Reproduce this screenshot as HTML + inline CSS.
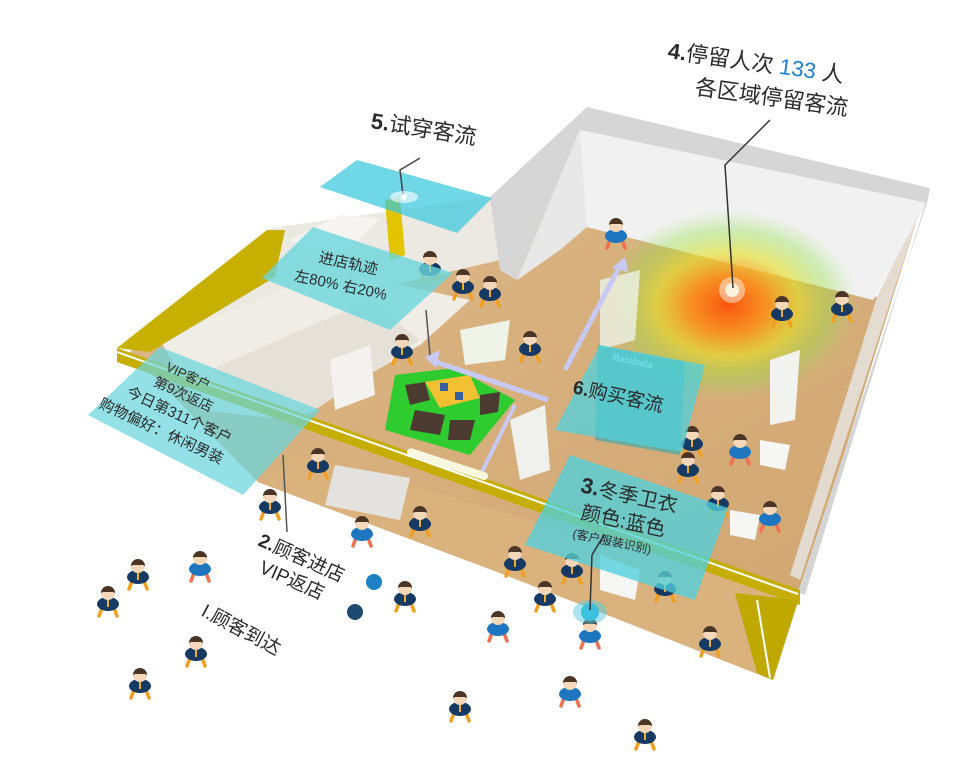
<!DOCTYPE html>
<html><head><meta charset="utf-8">
<style>
html,body{margin:0;padding:0;background:#fff;width:975px;height:780px;overflow:hidden}
svg{display:block}
text{font-family:"Liberation Sans","Noto Sans CJK SC",sans-serif;fill:#2b2b2b}
</style></head><body>
<svg width="975" height="780" viewBox="0 0 975 780" xmlns="http://www.w3.org/2000/svg">
<defs>
<radialGradient id="heat" cx="0.5" cy="0.5" r="0.5">
<stop offset="0" stop-color="#ff4a00" stop-opacity="0.9"/>
<stop offset="0.3" stop-color="#ff8a10" stop-opacity="0.8"/>
<stop offset="0.55" stop-color="#e6e020" stop-opacity="0.6"/>
<stop offset="0.8" stop-color="#8fe040" stop-opacity="0.35"/>
<stop offset="1" stop-color="#a0e060" stop-opacity="0"/>
</radialGradient>
<linearGradient id="wood" x1="0" y1="0" x2="1" y2="1">
<stop offset="0" stop-color="#dcb888"/><stop offset="1" stop-color="#d0a46e"/>
</linearGradient>
<g id="p">
<path d="M-6 8 l-3 8 M6 8 l3 8" stroke="#f0a020" stroke-width="3.5" stroke-linecap="round"/>
<ellipse cx="0" cy="4" rx="11" ry="7" fill="#163a63"/>
<rect x="-1" y="-2" width="2" height="9" fill="#f0b020"/>
<circle cx="0" cy="-7" r="7" fill="#f3d7b8"/>
<path d="M-7 -7 a7 7 0 0 1 14 0 l-2 -1 l-10 0 z" fill="#4b3526"/>
</g>
<g id="pb">
<path d="M-6 8 l-3 8 M6 8 l3 8" stroke="#f07050" stroke-width="3.5" stroke-linecap="round"/>
<ellipse cx="0" cy="4" rx="11" ry="7" fill="#1f76c0"/>
<circle cx="0" cy="-7" r="7" fill="#f3d7b8"/>
<path d="M-7 -7 a7 7 0 0 1 14 0 l-2 -1 l-10 0 z" fill="#4b3526"/>
</g>
</defs>

<!-- floor -->
<polygon points="130,352 280,240 490,197 587,227 877,297 920,210 800,595 773,680 500,573 258,482" fill="url(#wood)"/>
<polygon points="258,482 300,455 800,596 773,680 500,573" fill="#d9b27e"/>

<!-- left zone walls -->
<polygon points="272,228 490,197 500,260 330,300 250,330 175,330" fill="#ece9e2"/>
<polygon points="160,340 330,270 470,300 420,345 290,420 200,410" fill="#f0ede6"/>
<polygon points="210,370 370,300 420,340 300,420" fill="#e6e1d8"/>
<polygon points="290,240 340,215 380,218 340,260" fill="#f6f4f0"/>
<!-- dressing room yellow -->
<polygon points="385,200 400,198 405,255 390,260" fill="#e2c400"/>
<!-- left yellow wall -->
<polygon points="117,348 267,230 285,230 275,277 150,352" fill="#c8b000"/>

<!-- back right wall -->
<polygon points="490,197 587,107 930,188 927,203 580,130 517,280 500,270" fill="#d6d6d6"/>
<polygon points="580,130 927,203 873,300 587,227" fill="#f1f1f1"/>
<polygon points="517,280 580,130 587,227 560,250" fill="#e8e8e8"/>
<!-- right wall -->
<polygon points="927,203 930,188 805,595 798,592" fill="#d4d4d4"/>
<polygon points="877,297 920,210 800,580 790,575" fill="#e7e7e7" opacity="0.8"/>

<!-- heat map -->
<ellipse cx="728" cy="305" rx="130" ry="95" fill="url(#heat)"/>
<circle cx="732" cy="290" r="13" fill="#fff" opacity="0.45"/>
<circle cx="732" cy="290" r="7" fill="#fdf0dc"/>

<!-- fixtures -->
<polygon points="330,360 370,345 375,395 335,410" fill="#f4f2ee"/>
<polygon points="460,330 510,320 505,360 465,365" fill="#f0f3e8"/>
<polygon points="600,280 640,270 635,340 600,350" fill="#eef2e8" opacity="0.8"/>
<polygon points="510,420 545,405 550,470 520,480" fill="#f0f0ec"/>
<polygon points="770,360 800,350 795,420 770,425" fill="#f2f2ee"/>
<polygon points="760,440 790,445 785,470 760,465" fill="#f6f6f4"/>
<polygon points="730,510 760,515 755,540 730,535" fill="#f6f6f4"/>
<polygon points="600,555 640,570 635,600 600,590" fill="#f6f6f4"/>
<polygon points="335,465 410,478 400,520 325,505" fill="#e4e2de"/>
<!-- green display -->
<polygon points="395,375 455,368 515,400 470,455 385,430" fill="#2fcc2f"/>
<polygon points="425,382 470,375 480,398 440,408" fill="#f2c030"/>
<rect x="440" y="383" width="8" height="8" fill="#3a5fa0"/>
<rect x="455" y="392" width="8" height="8" fill="#3a5fa0"/>
<polygon points="405,385 425,382 430,400 410,405" fill="#4a3a30"/>
<polygon points="415,410 445,415 440,435 410,430" fill="#4a3a30"/>
<polygon points="450,420 475,420 470,440 448,440" fill="#4a3a30"/>
<polygon points="480,395 500,392 498,412 480,415" fill="#4a3a30"/>
<!-- arrows -->
<path d="M548 400 L430 360" stroke="#c8c8f5" stroke-width="5"/>
<polygon points="425,357 440,350 436,368" fill="#c8c8f5"/>
<path d="M478 480 L515 405" stroke="#c8c8f5" stroke-width="4"/>
<path d="M565 370 L622 262" stroke="#c8c8f5" stroke-width="5"/>
<polygon points="625,257 612,268 628,272" fill="#c8c8f5"/>
<!-- front yellow strip -->
<polygon points="117,348 800,590 800,605 117,362" fill="#c6ae00"/>
<line x1="117" y1="352" x2="798" y2="594" stroke="#fff" stroke-width="2"/>
<polygon points="735,593 798,600 773,680 757,673" fill="#bfa800"/>
<line x1="757" y1="600" x2="770" y2="678" stroke="#fff" stroke-width="2"/>
<rect x="405" y="460" width="85" height="8" rx="4" fill="#f8f8e0" transform="rotate(18 447 464)"/>
<!-- Balabala board -->
<polygon points="598,345 685,362 680,455 595,440" fill="#2fa8b0" opacity="0.6"/>
<text x="612" y="360" font-size="10" font-weight="bold" style="fill:#dffcff" transform="rotate(12 612 360)">Balabala</text>

<!-- people -->
<use href="#pb" x="616" y="232"/>
<use href="#p" x="430" y="265"/><use href="#p" x="463" y="283"/><use href="#p" x="490" y="290"/>
<use href="#p" x="402" y="348"/><use href="#p" x="530" y="345"/>
<use href="#p" x="782" y="310"/><use href="#p" x="842" y="305"/>
<use href="#p" x="692" y="440"/><use href="#pb" x="740" y="448"/><use href="#p" x="688" y="466"/>
<use href="#p" x="718" y="500"/><use href="#pb" x="770" y="515"/>
<use href="#p" x="318" y="462"/><use href="#p" x="270" y="503"/><use href="#pb" x="362" y="530"/>
<use href="#p" x="420" y="520"/><use href="#p" x="515" y="560"/><use href="#p" x="572" y="567"/>
<use href="#p" x="545" y="595"/><use href="#p" x="405" y="595"/><use href="#pb" x="498" y="625"/>
<use href="#pb" x="590" y="632"/><use href="#p" x="710" y="640"/><use href="#p" x="665" y="585"/>
<use href="#p" x="138" y="573"/><use href="#pb" x="200" y="565"/><use href="#p" x="108" y="600"/>
<use href="#p" x="196" y="650"/><use href="#p" x="140" y="682"/><use href="#p" x="460" y="705"/>
<use href="#pb" x="570" y="690"/><use href="#p" x="645" y="733"/>

<!-- cyan panels -->
<polygon points="320,187 357,160 492,198 457,233" fill="#39c8dc" opacity="0.72"/>
<polygon points="313,227 453,273 390,330 262,278" fill="#6ad6dc" opacity="0.8"/>
<polygon points="160,347 320,410 243,495 88,415" fill="#6ad6dc" opacity="0.72"/>
<polygon points="600,345 705,365 682,452 555,430" fill="#4fd0dc" opacity="0.75"/>
<polygon points="570,455 728,508 695,600 525,545" fill="#4fd0dc" opacity="0.78"/>

<!-- leader lines -->
<polyline points="420,158 400,170 403,195" fill="none" stroke="#444" stroke-width="1.5"/>
<ellipse cx="404" cy="197" rx="14" ry="6" fill="#fff" opacity="0.6"/>
<circle cx="404" cy="197" r="3" fill="#fff"/>
<polyline points="770,120 725,165 733,288" fill="none" stroke="#333" stroke-width="1.5"/>
<line x1="283" y1="455" x2="287" y2="532" stroke="#555" stroke-width="1.5"/>
<line x1="426" y1="310" x2="430" y2="355" stroke="#555" stroke-width="1.5"/>
<ellipse cx="590" cy="612" rx="17" ry="12" fill="#5ccbe0" opacity="0.5"/>
<circle cx="590" cy="612" r="9" fill="#3cc0dc"/>
<polyline points="604,535 592,555 590,610" fill="none" stroke="#333" stroke-width="1.5"/>

<!-- labels -->
<g transform="rotate(8 668 52)">
<text x="668" y="58" font-size="22"><tspan font-weight="bold">4.</tspan>停留人次 <tspan style="fill:#1e7fd0">133</tspan> 人</text>
<text x="700" y="90" font-size="22">各区域停留客流</text>
</g>
<text x="370" y="128" font-size="22" transform="rotate(9 370 128)"><tspan font-weight="bold">5.</tspan>试穿客流</text>
<g transform="rotate(12 318 262)">
<text x="318" y="262" font-size="15">进店轨迹</text>
<text x="298" y="285" font-size="15">左80% 右20%</text>
</g>
<g transform="rotate(25 165 370)">
<text x="165" y="370" font-size="13">VIP客户</text>
<text x="160" y="389" font-size="14">第9次返店</text>
<text x="140" y="410" font-size="15">今日第311个客户</text>
<text x="120" y="432" font-size="15">购物偏好：休闲男装</text>
</g>
<text x="572" y="393" font-size="19" transform="rotate(12 572 393)"><tspan font-weight="bold">6.</tspan>购买客流</text>
<g transform="rotate(12 580 490)">
<text x="580" y="492" font-size="20"><tspan font-weight="bold" font-size="22">3.</tspan>冬季卫衣</text>
<text x="586" y="518" font-size="20">颜色:蓝色</text>
<text x="582" y="538" font-size="12">(客户服装识别)</text>
</g>
<text x="257" y="545" font-size="19" transform="rotate(24 257 545)"><tspan font-weight="bold">2.</tspan>顾客进店</text>
<circle cx="374" cy="582" r="8" fill="#1b80c4"/>
<text x="258" y="572" font-size="19" transform="rotate(24 258 572)">VIP返店</text>
<circle cx="355" cy="612" r="8" fill="#1e4a72"/>
<text x="200" y="615" font-size="19" transform="rotate(28 200 615)">I.顾客到达</text>
</svg>
</body></html>
